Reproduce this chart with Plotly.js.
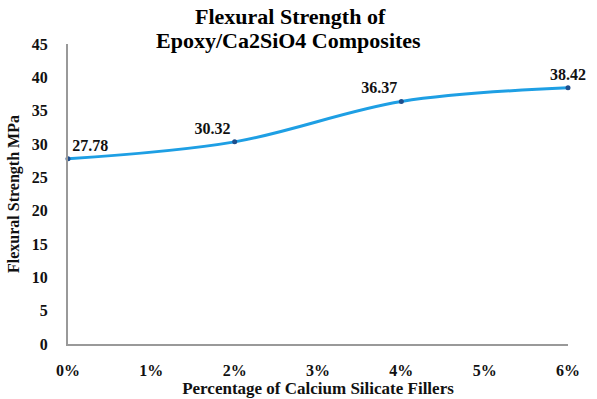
<!DOCTYPE html>
<html>
<head>
<meta charset="utf-8">
<script src="https://cdn.plot.ly/plotly-3.0.1.min.js"></script>
<style>html,body{margin:0;padding:0;background:#fff;}#chart{width:597px;height:399px;}</style>
</head>
<body>
<div id="chart"></div>
<script>
const fillerPct = [0, 2, 4, 6];
const strength = [27.78, 30.32, 36.37, 38.42];
const pointLabels = ["27.78", "30.32", "36.37", "38.42"];
const xTickVals = [0, 1, 2, 3, 4, 5, 6];
const xTickText = ["0%", "1%", "2%", "3%", "4%", "5%", "6%"];
const titleLines = ["Flexural Strength of", "Epoxy/Ca2SiO4 Composites"];

const serif = "Liberation Serif, Times New Roman, serif";

const trace = {
  x: fillerPct,
  y: strength,
  text: pointLabels,
  mode: "lines+markers+text",
  line: {shape: "spline", smoothing: 1, color: "#1e9fe4", width: 3},
  marker: {size: 5, color: "#1f4e8c"},
  textposition: ["top right", "top left", "top left", "top center"],
  textfont: {family: serif, size: 16, color: "#111", weight: "bold"},
  cliponaxis: false,
  hoverinfo: "none"
};

const layout = {
  width: 597, height: 399,
  margin: {l: 68, r: 29, t: 44, b: 55},
  paper_bgcolor: "#fff", plot_bgcolor: "#fff",
  showlegend: false,
  annotations: [
    {text: "<b>" + titleLines[0] + "</b>", xref: "paper", yref: "paper", x: 0.445, y: 1.093,
     xanchor: "center", yanchor: "middle", showarrow: false,
     font: {family: serif, size: 22, color: "#000"}},
    {text: "<b>" + titleLines[1] + "</b>", xref: "paper", yref: "paper", x: 0.44, y: 1.013,
     xanchor: "center", yanchor: "middle", showarrow: false,
     font: {family: serif, size: 22, color: "#000"}}
  ],
  xaxis: {
    range: [0, 6],
    tickvals: xTickVals, ticktext: xTickText,
    showgrid: false, zeroline: false,
    showline: true, linecolor: "#999", linewidth: 2,
    ticks: "", ticklabelstandoff: 11,
    tickfont: {family: serif, size: 16, color: "#111", weight: "bold"},
    title: {text: "<b>Percentage of Calcium Silicate Fillers</b>", font: {family: serif, size: 17, color: "#111"}, standoff: 2}
  },
  yaxis: {
    range: [0, 45], dtick: 5,
    showgrid: false, zeroline: false,
    showline: true, linecolor: "#999", linewidth: 2,
    ticks: "", ticklabelstandoff: 15,
    tickfont: {family: serif, size: 16, color: "#111", weight: "bold"},
    title: {text: "<b>Flexural Strength MPa</b>", font: {family: serif, size: 16, color: "#111"}, standoff: 8}
  }
};

Plotly.newPlot("chart", [trace], layout, {staticPlot: true, displayModeBar: false});
</script>
</body>
</html>
